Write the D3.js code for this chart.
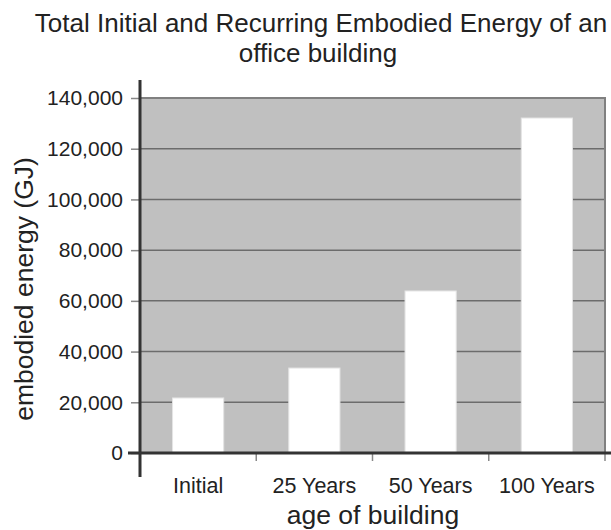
<!DOCTYPE html>
<html>
<head>
<meta charset="utf-8">
<script src="https://cdn.jsdelivr.net/npm/d3@7"></script>
<style>
  body { margin: 0; background: #fff; }
  text { font-family: "Liberation Sans", Arial, sans-serif; fill: #222; }
</style>
</head>
<body>
<script>
// chart data
var categories = ['Initial', '25 Years', '50 Years', '100 Years'];
var energyValues = [21700, 33500, 63900, 132100];
var yTicks = [0, 20000, 40000, 60000, 80000, 100000, 120000, 140000];
var titleLines = ['Total Initial and Recurring Embodied Energy of an', 'office building'];

var width = 611, height = 530;
var plot = { left: 140, right: 605, top: 98, bottom: 453 };

var svg = d3.select('body').append('svg')
  .attr('width', width)
  .attr('height', height);

var x = d3.scaleBand()
  .domain(categories)
  .range([plot.left, plot.right])
  .paddingInner(0.56)
  .paddingOuter(0.28);

var y = d3.scaleLinear()
  .domain([0, 140000])
  .range([plot.bottom, plot.top]);

// plot background
svg.append('rect')
  .attr('x', plot.left)
  .attr('y', plot.top)
  .attr('width', plot.right - plot.left)
  .attr('height', plot.bottom - plot.top)
  .style('fill', '#c0c0c0');

// gridlines
svg.selectAll('.grid')
  .data(yTicks.slice(1, -1))
  .enter()
  .append('line')
  .attr('x1', plot.left)
  .attr('x2', plot.right)
  .attr('y1', function(d) { return y(d); })
  .attr('y2', function(d) { return y(d); })
  .style('stroke', '#6c6c6c')
  .style('stroke-width', 1.5);

// top and right border
svg.append('path')
  .attr('d', 'M' + plot.left + ',' + plot.top + 'H' + plot.right + 'V' + plot.bottom)
  .style('fill', 'none')
  .style('stroke', '#808080')
  .style('stroke-width', 2);

// bars
svg.selectAll('.bar')
  .data(energyValues)
  .enter()
  .append('rect')
  .attr('x', function(d, i) { return x(categories[i]); })
  .attr('y', function(d) { return y(d); })
  .attr('width', x.bandwidth())
  .attr('height', function(d) { return y(0) - y(d); })
  .style('fill', '#fff')
  .style('stroke', '#e4e4e4')
  .style('stroke-width', 1);

// y axis
var yAxis = svg.append('g')
  .attr('transform', 'translate(' + plot.left + ',0)')
  .call(d3.axisLeft(y).tickValues(yTicks).tickSize(9).tickPadding(8)
    .tickFormat(d3.format(',')));
yAxis.select('.domain').remove();
yAxis.selectAll('.tick line').style('stroke', '#888').style('stroke-width', 1.5);
yAxis.selectAll('.tick text')
  .style('font-size', '21px')
  .style('fill', '#222');

// x axis ticks at band edges
var edges = categories.map(function(c) { return x(c) - x.step() * x.paddingInner() / 2; });
edges.push(plot.right);
svg.selectAll('.xtick')
  .data(edges.slice(1))
  .enter()
  .append('line')
  .attr('x1', function(d) { return d; })
  .attr('x2', function(d) { return d; })
  .attr('y1', plot.bottom)
  .attr('y2', plot.bottom + 8)
  .style('stroke', '#888')
  .style('stroke-width', 1.5);

svg.selectAll('.xlabel')
  .data(categories)
  .enter()
  .append('text')
  .attr('x', function(d) { return x(d) + x.bandwidth() / 2; })
  .attr('y', 493)
  .attr('text-anchor', 'middle')
  .style('font-size', '21.5px')
  .text(function(d) { return d; });

// axis lines
svg.append('line')
  .attr('x1', plot.left).attr('x2', plot.left)
  .attr('y1', 80).attr('y2', 477)
  .style('stroke', '#333')
  .style('stroke-width', 3);
svg.append('line')
  .attr('x1', 128).attr('x2', width)
  .attr('y1', plot.bottom).attr('y2', plot.bottom)
  .style('stroke', '#333')
  .style('stroke-width', 3);

// titles
svg.selectAll('.title')
  .data(titleLines)
  .enter()
  .append('text')
  .attr('x', function(d, i) { return i === 0 ? 321 : 318; })
  .attr('y', function(d, i) { return 32 + i * 30; })
  .attr('text-anchor', 'middle')
  .style('font-size', '26px')
  .text(function(d) { return d; });

svg.append('text')
  .attr('x', 373)
  .attr('y', 524)
  .attr('text-anchor', 'middle')
  .style('font-size', '26.5px')
  .text('age of building');

svg.append('text')
  .attr('transform', 'translate(33,289) rotate(-90)')
  .attr('text-anchor', 'middle')
  .style('font-size', '26.5px')
  .text('embodied energy (GJ)');
</script>
</body>
</html>
